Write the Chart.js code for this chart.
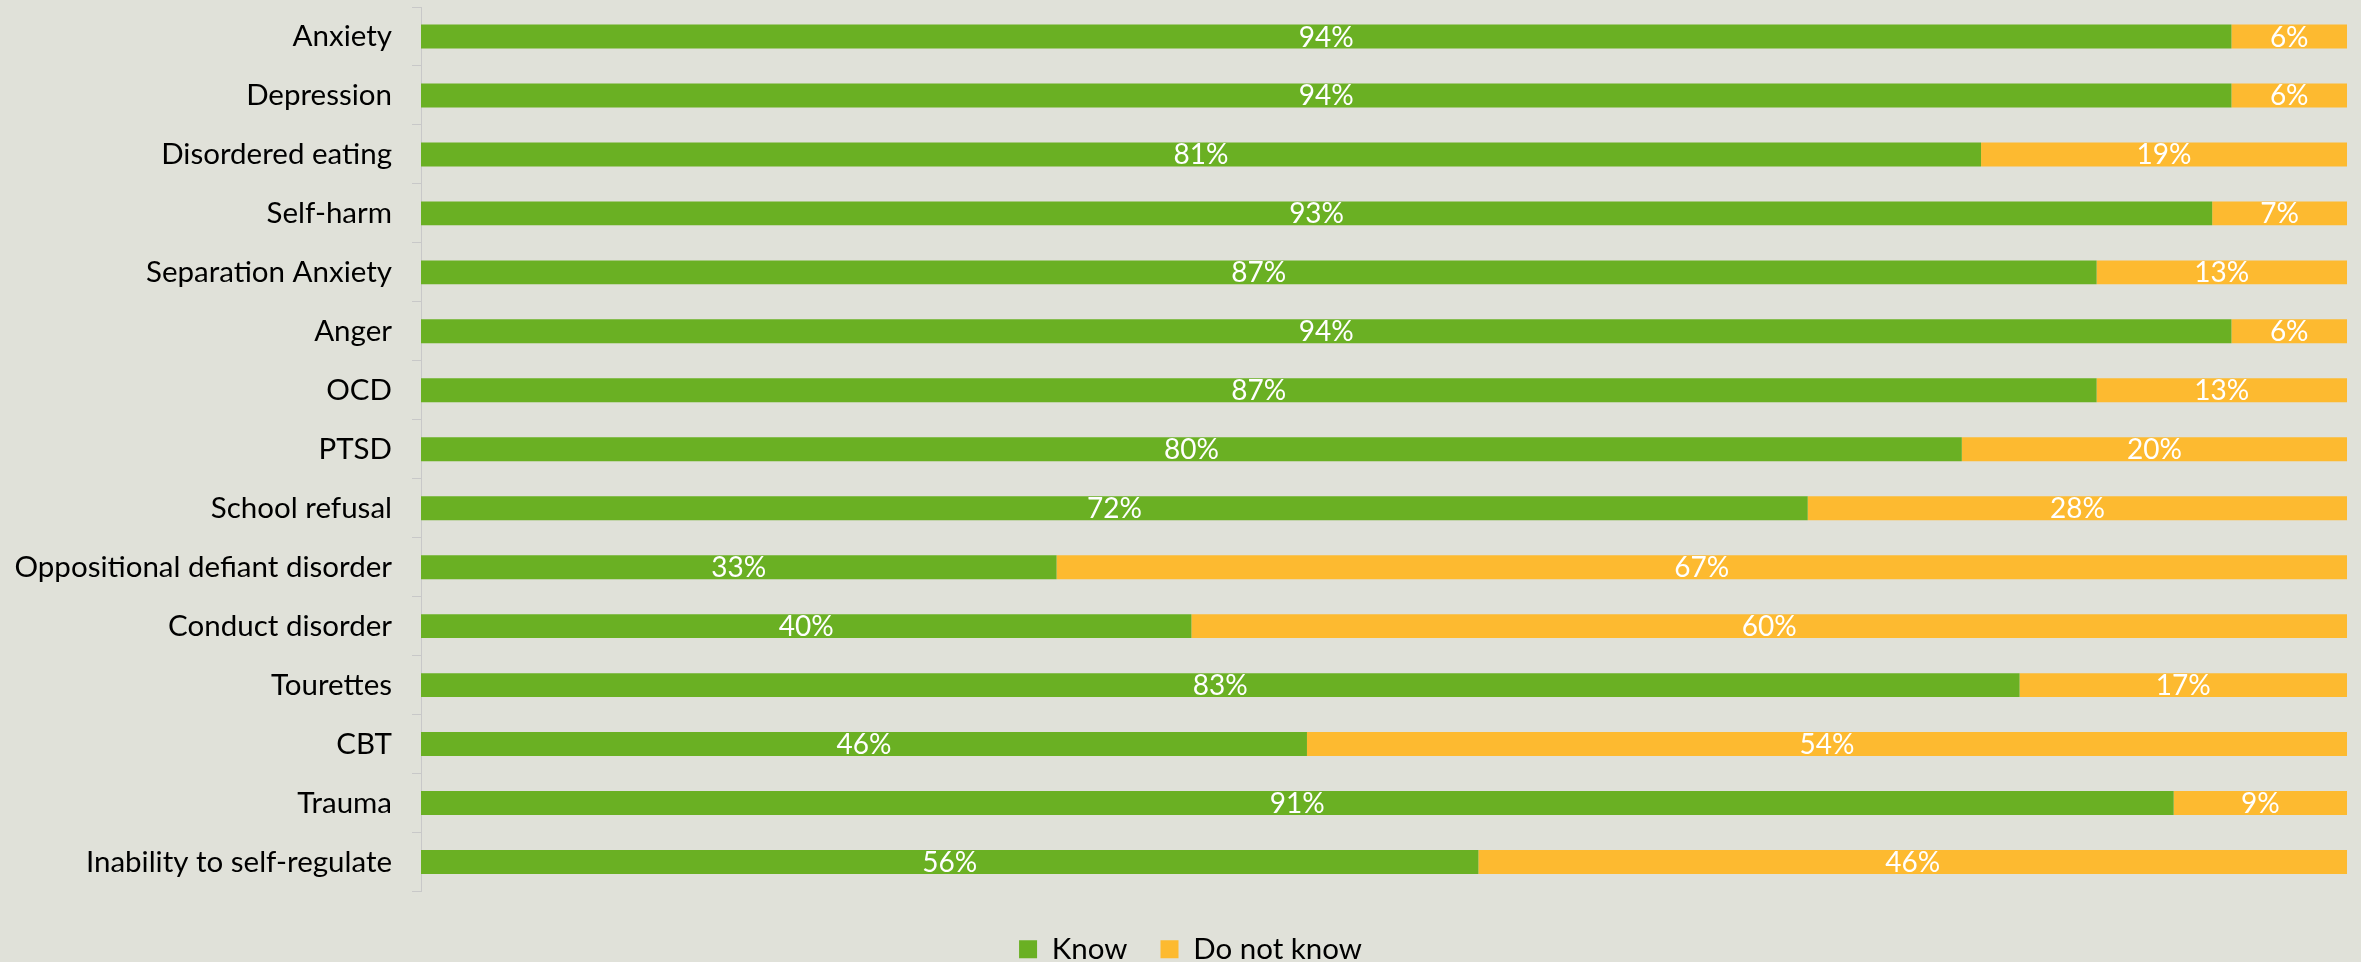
<!DOCTYPE html>
<html>
<head>
<meta charset="utf-8">
<title>Awareness of conditions</title>
<script src="https://cdn.jsdelivr.net/npm/chart.js@4.4.1/dist/chart.umd.min.js"></script>
<style>
  html, body { margin: 0; padding: 0; background: #e0e1d9; }
  #wrap { width: 2361px; height: 962px; position: relative; }
</style>
</head>
<body>
<div id="wrap"><canvas id="chart"></canvas></div>
<script>
// Conditions surveyed, top to bottom
const categories = [
  "Anxiety", "Depression", "Disordered eating", "Self-harm", "Separation Anxiety",
  "Anger", "OCD", "PTSD", "School refusal", "Oppositional defiant disorder",
  "Conduct disorder", "Tourettes", "CBT", "Trauma", "Inability to self-regulate"
];
// Percentages as reported for each condition
const knowValues     = [94, 94, 81, 93, 87, 94, 87, 80, 72, 33, 40, 83, 46, 91, 56];
const dontKnowValues = [ 6,  6, 19,  7, 13,  6, 13, 20, 28, 67, 60, 17, 54,  9, 46];
const seriesNames = ["Know", "Do not know"];

const GREEN = "#6ab023";
const AMBER = "#fdba30";
const FONT = "Lato";
const AXIS_X = 421;    // where the category axis line sits

// 100% stacked: each segment is its share of the row total
function shares(values) {
  return values.map((v, i) => v / (knowValues[i] + dontKnowValues[i]) * 100);
}

// Writes the reported value in the middle of every segment
const segmentLabels = {
  id: "segmentLabels",
  afterDatasetsDraw(chart) {
    const ctx = chart.ctx;
    ctx.save();
    ctx.fillStyle = "#ffffff";
    ctx.font = "28px " + FONT;
    ctx.textAlign = "center";
    ctx.textBaseline = "middle";
    chart.data.datasets.forEach((ds, di) => {
      chart.getDatasetMeta(di).data.forEach((bar, i) => {
        const cx = (bar.x + bar.base) / 2;
        ctx.fillText(ds.rawValues[i] + "%", cx, bar.y + 1);
      });
    });
    ctx.restore();
  }
};

// Nudges the legend row a little down and to the right
const legendOffset = {
  id: "legendOffset",
  afterLayout(chart) {
    const lg = chart.legend;
    if (lg) {
      lg.top += 10;
      lg.bottom += 10;
      lg.left += 17;
      lg.right += 17;
    }
  }
};

new Chart(document.getElementById("chart"), {
  type: "bar",
  data: {
    labels: categories,
    datasets: [
      { label: seriesNames[0], data: shares(knowValues), rawValues: knowValues,
        backgroundColor: GREEN, borderWidth: 0,
        barPercentage: 0.406, categoryPercentage: 1 },
      { label: seriesNames[1], data: shares(dontKnowValues), rawValues: dontKnowValues,
        backgroundColor: AMBER, borderWidth: 0,
        barPercentage: 0.406, categoryPercentage: 1 }
    ]
  },
  options: {
    indexAxis: "y",
    responsive: true,
    maintainAspectRatio: false,
    animation: false,
    layout: { padding: { top: 7, right: 14, left: 0, bottom: -2 } },
    scales: {
      x: { stacked: true, min: 0, max: 100, display: false },
      y: {
        stacked: true,
        afterFit(scale) {
          scale.width = AXIS_X;
          scale.paddingTop = 0;
          scale.paddingBottom = 0;
        },
        border: { display: true, color: "#c8c8c8", width: 1 },
        grid: { drawOnChartArea: false, drawTicks: true, tickLength: 9, color: "#c8c8c8" },
        ticks: { color: "#000000", padding: 20, font: { family: FONT, size: 29.5 } }
      }
    },
    plugins: {
      tooltip: { enabled: false },
      legend: {
        position: "bottom",
        align: "center",
        labels: {
          boxWidth: 18, boxHeight: 18, padding: 33, color: "#000000",
          font: { family: FONT, size: 29.5 }
        }
      }
    }
  },
  plugins: [segmentLabels, legendOffset]
});
</script>
</body>
</html>
